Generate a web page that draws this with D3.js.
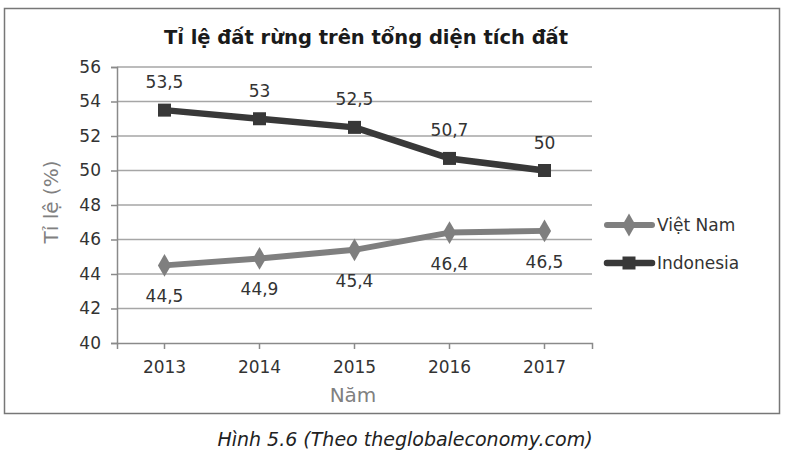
<!DOCTYPE html>
<html><head><meta charset="utf-8">
<script src="https://cdn.jsdelivr.net/npm/d3@7"></script>
<style>body{margin:0;background:#fff;} svg{display:block;font-family:"DejaVu Sans",sans-serif;}</style>
</head><body>
<script>
const years = ["2013","2014","2015","2016","2017"];
const vietnam = [44.5, 44.9, 45.4, 46.4, 46.5];
const indonesia = [53.5, 53, 52.5, 50.7, 50];
const yTicks = [40,42,44,46,48,50,52,54,56];
const seriesNames = ["Việt Nam","Indonesia"];

(function(){
const W=787,H=457, FF="DejaVu Sans, sans-serif";
const svg=d3.select("body").append("svg").attr("width",W).attr("height",H);
svg.append("rect").attr("x",4.5).attr("y",8.5).attr("width",775).attr("height",405)
  .attr("fill","#fff").attr("stroke","#777").attr("stroke-width",1.5);

const pL=117,pR=592,pT=67,pB=343;
const x=d3.scaleBand().domain(years).range([pL,pR]);
const xc=d=>x(d)+x.bandwidth()/2;
const y=d3.scaleLinear().domain([40,56]).range([pB,pT]);
const loc=d3.formatLocale({decimal:",",thousands:".",grouping:[3],currency:["",""]});
const fmt=v=>loc.format("~g")(v);

// gridlines
svg.append("g").selectAll("line").data(yTicks.filter(t=>t>40)).join("line")
  .attr("x1",pL).attr("x2",pR).attr("y1",d=>y(d)).attr("y2",d=>y(d))
  .attr("stroke","#a6a6a6").attr("stroke-width",1.5);

// y axis
const ya=svg.append("g").attr("transform",`translate(${pL},0)`)
  .call(d3.axisLeft(y).tickValues(yTicks).tickSize(6).tickPadding(10));
ya.select(".domain").attr("stroke","#8a8a8a").attr("stroke-width",1.5);
ya.selectAll(".tick line").attr("stroke","#8a8a8a").attr("stroke-width",1.5);
ya.selectAll("text").attr("font-size",17).attr("fill","#333").attr("font-family",FF);

// x axis
const xa=svg.append("g").attr("transform",`translate(0,${pB})`)
  .call(d3.axisBottom(x).tickSize(6).tickPadding(12).tickSizeOuter(6));
xa.select(".domain").attr("stroke","#8a8a8a").attr("stroke-width",1.5);
xa.selectAll(".tick line").attr("stroke","#8a8a8a").attr("stroke-width",1.5);
xa.selectAll("text").attr("font-size",17).attr("fill","#333").attr("font-family",FF);

// axis titles
svg.append("text").attr("transform",`translate(58,202) rotate(-90)`)
  .attr("text-anchor","middle").attr("font-size",20).attr("fill","#808080").text("Tỉ lệ (%)");
svg.append("text").attr("x",353).attr("y",402).attr("text-anchor","middle")
  .attr("font-size",20).attr("fill","#808080").text("Năm");

// title
svg.append("text").attr("x",366).attr("y",44).attr("text-anchor","middle")
  .attr("font-size",19.5).attr("font-weight","bold").attr("fill","#1a1a1a")
  .text("Tỉ lệ đất rừng trên tổng diện tích đất");

const line=d3.line().x((d,i)=>xc(years[i])).y(d=>y(d));
const cols={vn:"#7f7f7f",id:"#383838"};

// Indonesia
svg.append("path").datum(indonesia).attr("d",line).attr("fill","none")
  .attr("stroke",cols.id).attr("stroke-width",6.5).attr("stroke-linejoin","round");
svg.append("g").selectAll("rect").data(indonesia).join("rect")
  .attr("x",(d,i)=>xc(years[i])-6.5).attr("y",d=>y(d)-6.5).attr("width",13).attr("height",13).attr("fill",cols.id);
// Vietnam
svg.append("path").datum(vietnam).attr("d",line).attr("fill","none")
  .attr("stroke",cols.vn).attr("stroke-width",6).attr("stroke-linejoin","round");
const dia=d3.symbol().type(d3.symbolDiamond).size(150);
svg.append("g").selectAll("path").data(vietnam).join("path")
  .attr("d",dia).attr("transform",(d,i)=>`translate(${xc(years[i])},${y(d)})`).attr("fill",cols.vn);

// labels
svg.append("g").selectAll("text").data(indonesia).join("text")
  .attr("x",(d,i)=>xc(years[i])).attr("y",d=>y(d)-22).attr("text-anchor","middle")
  .attr("font-size",17).attr("fill","#333").text(d=>fmt(d));
svg.append("g").selectAll("text").data(vietnam).join("text")
  .attr("x",(d,i)=>xc(years[i])).attr("y",d=>y(d)+37).attr("text-anchor","middle")
  .attr("font-size",17).attr("fill","#333").text(d=>fmt(d));

// legend
const lg=svg.append("g");
[[seriesNames[0],cols.vn,"d",225],[seriesNames[1],cols.id,"s",263]].forEach(([n,c,t,ly])=>{
  lg.append("line").attr("x1",607).attr("x2",652).attr("y1",ly).attr("y2",ly)
    .attr("stroke",c).attr("stroke-width",t==="d"?6:6.5).attr("stroke-linecap","round");
  if(t==="d") lg.append("path").attr("d",dia).attr("transform",`translate(629,${ly})`).attr("fill",c);
  else lg.append("rect").attr("x",622.5).attr("y",ly-6.5).attr("width",13).attr("height",13).attr("fill",c);
  lg.append("text").attr("x",657).attr("y",ly+6).attr("font-size",17).attr("fill","#333").text(n);
});

// caption
svg.append("text").attr("x",405).attr("y",446).attr("text-anchor","middle")
  .attr("font-size",19).attr("font-style","italic").attr("fill","#222")
  .text("Hình 5.6 (Theo theglobaleconomy.com)");
})();
</script>
</body></html>
